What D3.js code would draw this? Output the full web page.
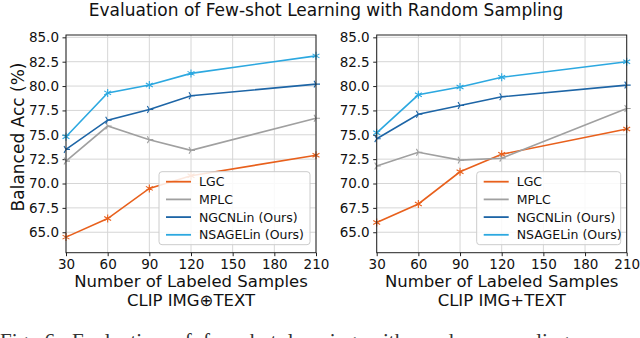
<!DOCTYPE html>
<html>
<head>
<meta charset="utf-8">
<script src="https://cdn.jsdelivr.net/npm/d3@7"></script>
<style>
  body { margin: 0; background: #fff; }
  text { font-family: "DejaVu Sans", sans-serif; }
</style>
</head>
<body>
<div id="chart"></div>
<script>
// data
var samples = [30, 60, 90, 120, 210];
var xTicks = [30, 60, 90, 120, 150, 180, 210];
var yTicks = [65, 67.5, 70, 72.5, 75, 77.5, 80, 82.5, 85];
var methods = ["LGC", "MPLC", "NGCNLin (Ours)", "NSAGELin (Ours)"];
var panelNames = ["CLIP IMG\u2295TEXT", "CLIP IMG+TEXT"];

// left panel: CLIP IMG(+)TEXT
var lgcConcat = [64.5, 66.4, 69.5, 70.8, 72.9];
var mplcConcat = [72.3, 75.9, 74.5, 73.4, 76.7];
var ngcnConcat = [73.5, 76.5, 77.6, 79.0, 80.2];
var nsageConcat = [74.8, 79.3, 80.1, 81.3, 83.1];

// right panel: CLIP IMG+TEXT
var lgcSum = [66.0, 67.9, 71.2, 73.0, 75.6];
var mplcSum = [71.8, 73.2, 72.4, 72.6, 77.7];
var ngcnSum = [74.6, 77.1, 78.0, 78.9, 80.1];
var nsageSum = [75.2, 79.1, 79.9, 80.9, 82.5];

var colors = ["#e8601c", "#a0a0a0", "#1d65a6", "#2ca8e0"];
var markerKind = ["star", "tri", "tri", "star"];

var svgWidth = 640;
var svgHeight = 338;

var svg = d3.select("#chart")
  .append("svg")
  .attr("width", svgWidth)
  .attr("height", svgHeight);

// suptitle
svg.append("text")
  .attr("x", 326)
  .attr("y", 16)
  .attr("text-anchor", "middle")
  .style("font-size", "17px")
  .style("fill", "#111")
  .text("Evaluation of Few-shot Learning with Random Sampling");

var panels = [
  { left: 66, series: [lgcConcat, mplcConcat, ngcnConcat, nsageConcat], legendW: 151 },
  { left: 376.7, series: [lgcSum, mplcSum, ngcnSum, nsageSum], legendW: 144 }
];

var plotW = 250;
var plotTop = 35;
var plotBottom = 252.7;

// small asterisk style marker
function markerPath(kind, r) {
  var n = kind === "star" ? 6 : 3;
  var p = "";
  for (var i = 0; i < n; i++) {
    var a = (kind === "star" ? Math.PI / 2 : 0) + i * 2 * Math.PI / n;
    p += "M0,0L" + (r * Math.cos(a)).toFixed(2) + "," + (-r * Math.sin(a)).toFixed(2);
  }
  return p;
}

panels.forEach(function(panel, pi) {
  var g = svg.append("g")
    .attr("transform", `translate(${panel.left}, 0)`);

  var x = d3.scaleLinear().domain([30, 210]).range([0, plotW]);
  var y = d3.scaleLinear().domain([62.9, 85.24]).range([plotBottom, plotTop]);

  // grid
  g.append("g").selectAll("line.gx")
    .data(xTicks)
    .enter()
    .append("line")
    .attr("x1", d => x(d)).attr("x2", d => x(d))
    .attr("y1", plotTop).attr("y2", plotBottom)
    .attr("stroke", "#d6d6d6")
    .attr("stroke-width", 1);

  g.append("g").selectAll("line.gy")
    .data(yTicks)
    .enter()
    .append("line")
    .attr("x1", 0).attr("x2", plotW)
    .attr("y1", d => y(d)).attr("y2", d => y(d))
    .attr("stroke", "#d6d6d6")
    .attr("stroke-width", 1);

  // axes
  var bottomAxis = d3.axisBottom(x).tickValues(xTicks).tickSize(3.5).tickPadding(3.5).tickFormat(d3.format("d"));
  var leftAxis = d3.axisLeft(y).tickValues(yTicks).tickSize(3.5).tickPadding(3.5).tickFormat(d3.format(".1f"));

  var xAxis = g.append("g")
    .attr("transform", `translate(0, ${plotBottom})`)
    .call(bottomAxis);
  var yAxis = g.append("g").call(leftAxis);

  [xAxis, yAxis].forEach(function(ax) {
    ax.select(".domain").remove();
    ax.selectAll("line").attr("stroke", "#222");
    ax.selectAll("text")
      .style("font-family", "DejaVu Sans, sans-serif")
      .style("font-size", "13.5px")
      .style("fill", "#111");
  });

  // series
  var line = d3.line()
    .x((d, i) => x(samples[i]))
    .y(d => y(d));

  panel.series.forEach(function(vals, si) {
    g.append("path")
      .datum(vals)
      .attr("fill", "none")
      .attr("stroke", colors[si])
      .attr("stroke-width", 1.6)
      .attr("d", line);

    g.append("g").selectAll("path")
      .data(vals)
      .enter()
      .append("path")
      .attr("transform", (d, i) => `translate(${x(samples[i])}, ${y(d)})`)
      .attr("d", markerPath(markerKind[si], 4))
      .attr("fill", "none")
      .attr("stroke", colors[si])
      .attr("stroke-width", 1.1);
  });

  // frame
  g.append("rect")
    .attr("x", 0).attr("y", plotTop)
    .attr("width", plotW).attr("height", plotBottom - plotTop)
    .attr("fill", "none")
    .attr("stroke", "#222")
    .attr("stroke-width", 1);

  // legend
  var lw = panel.legendW, lh = 73;
  var legend = g.append("g")
    .attr("transform", `translate(${plotW - 6 - lw}, ${plotBottom - 8 - lh})`);
  legend.append("rect")
    .attr("width", lw).attr("height", lh)
    .attr("rx", 3)
    .attr("fill", "white")
    .attr("fill-opacity", 0.85)
    .attr("stroke", "#cccccc");
  methods.forEach(function(m, mi) {
    var ly = 10 + mi * 17.7;
    legend.append("line")
      .attr("x1", 7).attr("x2", 32)
      .attr("y1", ly).attr("y2", ly)
      .attr("stroke", colors[mi])
      .attr("stroke-width", 1.8);
    legend.append("text")
      .attr("x", 40)
      .attr("y", ly)
      .attr("dy", "0.36em")
      .style("font-size", "12.5px")
      .style("fill", "#111")
      .text(m);
  });

  // x labels
  g.append("text")
    .attr("x", plotW / 2)
    .attr("y", 287)
    .attr("text-anchor", "middle")
    .style("font-size", "16.5px")
    .style("fill", "#111")
    .text("Number of Labeled Samples");
  g.append("text")
    .attr("x", plotW / 2)
    .attr("y", 306)
    .attr("text-anchor", "middle")
    .style("font-size", "16.5px")
    .style("fill", "#111")
    .text(panelNames[pi]);
});

// y label (left panel only)
svg.append("text")
  .attr("transform", "translate(18, 137) rotate(-90)")
  .attr("text-anchor", "middle")
  .attr("dy", "0.35em")
  .style("font-size", "17px")
  .style("fill", "#111")
  .text("Balanced Acc (%)");

// figure caption, cut off at the bottom edge
svg.append("text")
  .attr("x", 0)
  .attr("y", 348)
  .style("font-family", "Liberation Serif, serif")
  .style("font-size", "21px")
  .style("word-spacing", "6px")
  .style("fill", "#333")
  .text("Fig. 6: Evaluation of few-shot learning with random sampling");
</script>
</body>
</html>
